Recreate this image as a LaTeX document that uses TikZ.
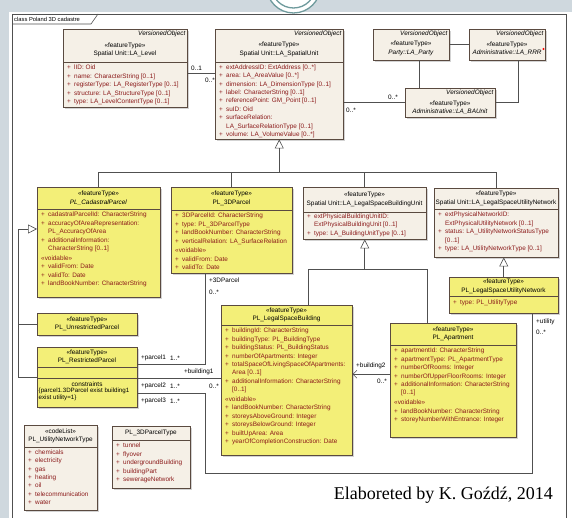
\documentclass[tikz,border=0pt]{standalone}
\usepackage{fontspec}
\setmainfont{Liberation Serif}
\newfontfamily\umlsans{Liberation Sans}
\usetikzlibrary{arrows.meta,shadows}

\definecolor{yellowfill}{HTML}{F3EF78}
\definecolor{beigefill}{HTML}{F5F0E7}
\definecolor{boxline}{HTML}{5A4A40}
\definecolor{attrred}{HTML}{8B1A1A}
\definecolor{linegray}{HTML}{505050}
\definecolor{bandgray}{HTML}{CFD8DE}
\definecolor{logoteal}{HTML}{6E9A9C}
\definecolor{shadowgray}{HTML}{A8A8A8}

\newcommand{\umlfont}{\umlsans\fontsize{6.4}{8.4}\selectfont}
\newcommand{\umlplus}{\makebox[7pt][l]{+}}
\newcommand{\umlcont}{\hspace*{7pt}}

\tikzset{
  umlbox/.style={draw=boxline, line width=0.5pt, anchor=north west, inner sep=0pt,
    drop shadow={shadow xshift=1.8pt, shadow yshift=-1.8pt, fill=shadowgray}},
  beigebox/.style={umlbox, fill=beigefill},
  yellowbox/.style={umlbox, fill=yellowfill},
  head/.style={font=\umlfont, align=center, inner sep=0pt},
  vobj/.style={font=\umlfont\itshape, anchor=north east, inner sep=0pt},
  attrs/.style={font=\umlfont, align=left, anchor=north west, inner sep=0pt, text=attrred},
  role/.style={font=\umlfont, anchor=west, inner sep=0pt},
  compline/.style={draw=boxline, line width=0.5pt},
  conn/.style={draw=linegray, line width=0.6pt},
  gen/.style={conn, -{Triangle[open, length=9pt, width=9pt]}},
}

\begin{document}
\begin{tikzpicture}[x=1pt, y=-1pt]
  \useasboundingbox (0,0) rectangle (572,518);

  % window and frame
  \fill[bandgray] (0,0) rectangle (572,12);
  \fill[bandgray] (0,0) rectangle (9,518);
  \fill[white] (293.5,-14) circle (27pt);
  \draw[logoteal, line width=1.3pt] (293.5,-14) circle (27pt) (293.5,-14) circle (22pt);
  \draw[linegray, line width=0.6pt] (12,530) -- (12,14) -- (566,14) -- (566,530);
  \draw[linegray, line width=0.6pt] (12,24) -- (91,24) -- (98,14);
  \node[font=\umlsans\fontsize{5.8}{7}\selectfont, anchor=west, inner sep=0pt] (frame) at (14,19) {class Poland 3D cadastre};

  % LADM classes
  \node[beigebox, minimum width=124pt, minimum height=78pt] (level) at (63,29) {};
  \node[vobj] (level-vo) at (185.5,30.5) {VersionedObject};
  \node[head] (level-h) at (125,50) {«featureType»\\Spatial Unit::LA\_Level};
  \draw[compline] (level.west |- 0,62) -- (level.east |- 0,62);
  \node[attrs] (level-a) at (67,65) {\umlplus lID: Oid\\\umlplus name: CharacterString [0..1]\\
    \umlplus registerType: LA\_RegisterType [0..1]\\\umlplus structure: LA\_StructureType [0..1]\\
    \umlplus type: LA\_LevelContentType [0..1]};

  \node[beigebox, minimum width=128pt, minimum height=110pt] (spatial) at (215,29) {};
  \node[vobj] (spatial-vo) at (341.5,30.5) {VersionedObject};
  \node[head] (spatial-h) at (279,49.5) {«featureType»\\Spatial Unit::LA\_SpatialUnit};
  \draw[compline] (spatial.west |- 0,62) -- (spatial.east |- 0,62);
  \node[attrs] (spatial-a) at (219,64.5) {\umlplus extAddressID: ExtAddress [0..*]\\
    \umlplus area: LA\_AreaValue [0..*]\\\umlplus dimension: LA\_DimensionType [0..1]\\
    \umlplus label: CharacterString [0..1]\\\umlplus referencePoint: GM\_Point [0..1]\\
    \umlplus suID: Oid\\\umlplus surfaceRelation:\\\umlcont LA\_SurfaceRelationType [0..1]\\
    \umlplus volume: LA\_VolumeValue [0..*]};

  \node[beigebox, minimum width=76pt, minimum height=31pt] (party) at (373,29) {};
  \node[vobj] (party-vo) at (447.5,30.5) {VersionedObject};
  \node[head] (party-h) at (411,48.5) {«featureType»\\\textit{Party::LA\_Party}};

  \node[beigebox, minimum width=76pt, minimum height=31pt] (rrr) at (469,29) {};
  \node[vobj] (rrr-vo) at (543.5,30.5) {VersionedObject};
  \node[head] (rrr-h) at (507,48.5) {«featureType»\\\textit{Administrative::LA\_RRR}};
  \fill[red] (543.5,49) circle (1.2pt);

  \node[beigebox, minimum width=90pt, minimum height=29pt] (baunit) at (405,88) {};
  \node[vobj] (baunit-vo) at (493.5,89.5) {VersionedObject};
  \node[head] (baunit-h) at (450,107.5) {«featureType»\\\textit{Administrative::LA\_BAUnit}};

  % Polish profile classes
  \node[yellowbox, minimum width=123pt, minimum height=110pt] (cadastral) at (37,187) {};
  \node[head] (cadastral-h) at (98.5,198) {«featureType»\\\textit{PL\_CadastralParcel}};
  \draw[compline] (cadastral.west |- 0,209) -- (cadastral.east |- 0,209);
  \node[attrs] (cadastral-a) at (41,212) {\umlplus cadastralParcelId: CharacterString\\
    \umlplus accuracyOfAreaRepresentation:\\\umlcont PL\_AccuracyOfArea\\
    \umlplus additionalInformation:\\\umlcont CharacterString [0..1]\\[1.5pt]
    «voidable»\\\umlplus validFrom: Date\\\umlplus validTo: Date\\
    \umlplus landBookNumber: CharacterString};

  \node[yellowbox, minimum width=121pt, minimum height=86pt] (3dparcel) at (171,187) {};
  \node[head] (3dparcel-h) at (231.5,198.5) {«featureType»\\PL\_3DParcel};
  \draw[compline] (3dparcel.west |- 0,210) -- (3dparcel.east |- 0,210);
  \node[attrs] (3dparcel-a) at (175,213) {\umlplus 3DParcelId: CharacterString\\
    \umlplus type: PL\_3DParcelType\\\umlplus landBookNumber: CharacterString\\
    \umlplus verticalRelation: LA\_SurfaceRelation\\[1.5pt]
    «voidable»\\\umlplus validFrom: Date\\\umlplus validTo: Date};

  \node[beigebox, minimum width=123pt, minimum height=52pt] (bunit) at (303,187) {};
  \node[head] (bunit-h) at (364.5,199.5) {«featureType»\\Spatial Unit::LA\_LegalSpaceBuildingUnit};
  \draw[compline] (bunit.west |- 0,212) -- (bunit.east |- 0,212);
  \node[attrs] (bunit-a) at (307,213.5) {\umlplus extPhysicalBuildingUnitID:\\
    \umlcont ExtPhysicalBuildingUnit [0..1]\\\umlplus type: LA\_BuildingUnitType [0..1]};

  \node[beigebox, minimum width=124pt, minimum height=69pt] (unet) at (434,188) {};
  \node[head] (unet-h) at (496,198.5) {«featureType»\\Spatial Unit::LA\_LegalSpaceUtilityNetwork};
  \draw[compline] (unet.west |- 0,209) -- (unet.east |- 0,209);
  \node[attrs] (unet-a) at (438,212) {\umlplus extPhysicalNetworkID:\\
    \umlcont ExtPhysicalUtilityNetwork [0..1]\\\umlplus status: LA\_UtilityNetworkStatusType\\
    \umlcont [0..1]\\\umlplus type: LA\_UtilityNetworkType [0..1]};

  \node[yellowbox, minimum width=109pt, minimum height=36pt] (plunet) at (449,277) {};
  \node[head] (plunet-h) at (503.5,286.5) {«featureType»\\PL\_LegalSpaceUtilityNetwork};
  \draw[compline] (plunet.west |- 0,296) -- (plunet.east |- 0,296);
  \node[attrs] (plunet-a) at (453,300) {\umlplus type: PL\_UtilityType};

  \node[yellowbox, minimum width=100pt, minimum height=22pt] (unrestricted) at (37,313) {};
  \node[head] (unrestricted-h) at (87,324) {«featureType»\\PL\_UnrestrictedParcel};

  \node[yellowbox, minimum width=100pt, minimum height=60pt] (restricted) at (37,347) {};
  \node[head] (restricted-h) at (87,357) {«featureType»\\PL\_RestrictedParcel};
  \draw[compline] (restricted.west |- 0,367) -- (restricted.east |- 0,367);
  \draw[compline] (restricted.west |- 0,378) -- (restricted.east |- 0,378);
  \node[head] (restricted-c) at (87,384) {constraints};
  \node[font=\umlsans\fontsize{6.2}{7.2}\selectfont, align=left, anchor=north west, inner sep=0pt]
    (restricted-k) at (38.5,388) {\{parcel1.3DParcel exist building1\\exist utility=1\}};

  \node[yellowbox, minimum width=131pt, minimum height=150pt] (building) at (221,305) {};
  \node[head] (building-h) at (286.5,315) {«featureType»\\PL\_LegalSpaceBuilding};
  \draw[compline] (building.west |- 0,325) -- (building.east |- 0,325);
  \node[attrs] (building-a) at (225,328) {\umlplus buildingId: CharacterString\\
    \umlplus buildingType: PL\_BuildingType\\\umlplus buildingStatus: PL\_BuildingStatus\\
    \umlplus numberOfApartments: Integer\\\umlplus totalSpaceOfLivingSpaceOfApartments:\\
    \umlcont Area [0..1]\\\umlplus additionalInformation: CharacterString\\\umlcont [0..1]\\[1.5pt]
    «voidable»\\\umlplus landBookNumber: CharacterString\\\umlplus storeysAboveGround: Integer\\
    \umlplus storeysBelowGround: Integer\\\umlplus builtUpArea: Area\\
    \umlplus yearOfCompletionConstruction: Date};

  \node[yellowbox, minimum width=126pt, minimum height=114pt] (apartment) at (390,323) {};
  \node[head] (apartment-h) at (453,334) {«featureType»\\PL\_Apartment};
  \draw[compline] (apartment.west |- 0,345) -- (apartment.east |- 0,345);
  \node[attrs] (apartment-a) at (394,348) {\umlplus apartmentId: CharacterString\\
    \umlplus apartmentType: PL\_ApartmentType\\\umlplus numberOfRooms: Integer\\
    \umlplus numberOfUpperFloorRooms: Integer\\\umlplus additionalInformation: CharacterString\\
    \umlcont [0..1]\\[1.5pt]
    «voidable»\\\umlplus landBookNumber: CharacterString\\\umlplus storeyNumberWithEntrance: Integer};

  \node[beigebox, minimum width=73pt, minimum height=85pt] (codelist) at (24,425) {};
  \node[head] (codelist-h) at (60.5,436) {«codeList»\\PL\_UtilityNetworkType};
  \draw[compline] (codelist.west |- 0,447) -- (codelist.east |- 0,447);
  \node[attrs] (codelist-a) at (28,449.5) {\umlplus chemicals\\\umlplus electricity\\\umlplus gas\\
    \umlplus heating\\\umlplus oil\\\umlplus telecommunication\\\umlplus water};

  \node[beigebox, minimum width=78pt, minimum height=62pt] (ptype) at (112,426) {};
  \node[head] (ptype-h) at (151,433) {PL\_3DParcelType};
  \draw[compline] (ptype.west |- 0,440) -- (ptype.east |- 0,440);
  \node[attrs] (ptype-a) at (116,443) {\umlplus tunnel\\\umlplus flyover\\\umlplus undergroundBuilding\\
    \umlplus buildingPart\\\umlplus sewerageNetwork};

  % associations between LADM classes
  \draw[conn] ([yshift=-5pt]level.east) -- ([yshift=-5pt]level.east -| spatial.west);
  \node[role] (m-level) at (191,68) {0..1};
  \node[role] (m-spatial) at (205,80) {0..*};
  \draw[conn] (baunit.west -| spatial.east) -- (baunit.west);
  \node[role] (m-su) at (346,110) {0..*};
  \node[role] (m-ba) at (388,97) {0..*};
  \draw[conn] (party.east) -- (rrr.west);
  \draw[conn] ([xshift=8pt]party.south) -- ([xshift=8pt]party.south |- baunit.north);
  \draw[conn] ([xshift=11pt]rrr.south) |- (baunit.east);

  % generalizations
  \coordinate (topbus) at (0,172);
  \draw[conn] (cadastral.north) |- (unet.north |- topbus) -- (unet.north);
  \draw[conn] (3dparcel.north) -- (3dparcel.north |- topbus);
  \draw[conn] (bunit.north) -- (bunit.north |- topbus);
  \draw[gen] (spatial.south |- topbus) -- (spatial.south);

  \coordinate (midbus) at (0,269);
  \draw[conn] ([xshift=21.5pt]building.north) |- ([xshift=-26pt]apartment.north |- midbus)
    -- ([xshift=-26pt]apartment.north);
  \draw[gen] (bunit.south |- midbus) -- (bunit.south);
  \draw[gen] (plunet.north) -- (plunet.north |- unet.south);

  \coordinate (gbend) at (18,229);
  \draw[conn] (unrestricted.west) -- (unrestricted.west -| gbend);
  \draw[gen] (restricted.west) -| (gbend) -- (cadastral.west |- gbend);

  % associations of the restricted parcel
  \draw[conn] ([yshift=13pt]restricted.east) -| ([xshift=-26pt]3dparcel.south);
  \node[role] (r-p1) at (141,358) {+parcel1};
  \node[role] (m-p1) at (170,358) {1..*};
  \node[role] (r-3d) at (209,280) {+3DParcel};
  \node[role] (m-3d) at (209,292) {0..*};

  \draw[conn] ([yshift=-1pt]restricted.east) -- ([yshift=-1pt]restricted.east -| building.west);
  \node[role] (r-p2) at (141,386) {+parcel2};
  \node[role] (m-p2) at (170,386) {1..*};
  \node[role] (r-b1) at (184,372) {+building1};
  \node[role] (m-b1) at (209,386) {0..*};

  \coordinate (ubend) at (205,473);
  \draw[conn] ([yshift=-16pt]restricted.east) -| (ubend) -| ([xshift=28.5pt]plunet.south);
  \node[role] (r-p3) at (141,401) {+parcel3};
  \node[role] (m-p3) at (170,401) {1..*};
  \node[role] (r-ut) at (536,322) {+utility};
  \node[role] (m-ut) at (536,332) {0..*};

  \draw[conn, -{Straight Barb[length=4pt, width=8pt]}] ([yshift=6pt]apartment.west)
    -- ([yshift=6pt]apartment.west -| building.east);
  \node[role] (r-b2) at (356,366) {+building2};
  \node[role] (m-b2) at (377,381) {0..*};

  \node[anchor=base east, font=\fontsize{18}{20}\selectfont, inner sep=0pt] (credit) at (553,499)
    {Elaboreted by K. Goźdź, 2014};
\end{tikzpicture}
\end{document}
